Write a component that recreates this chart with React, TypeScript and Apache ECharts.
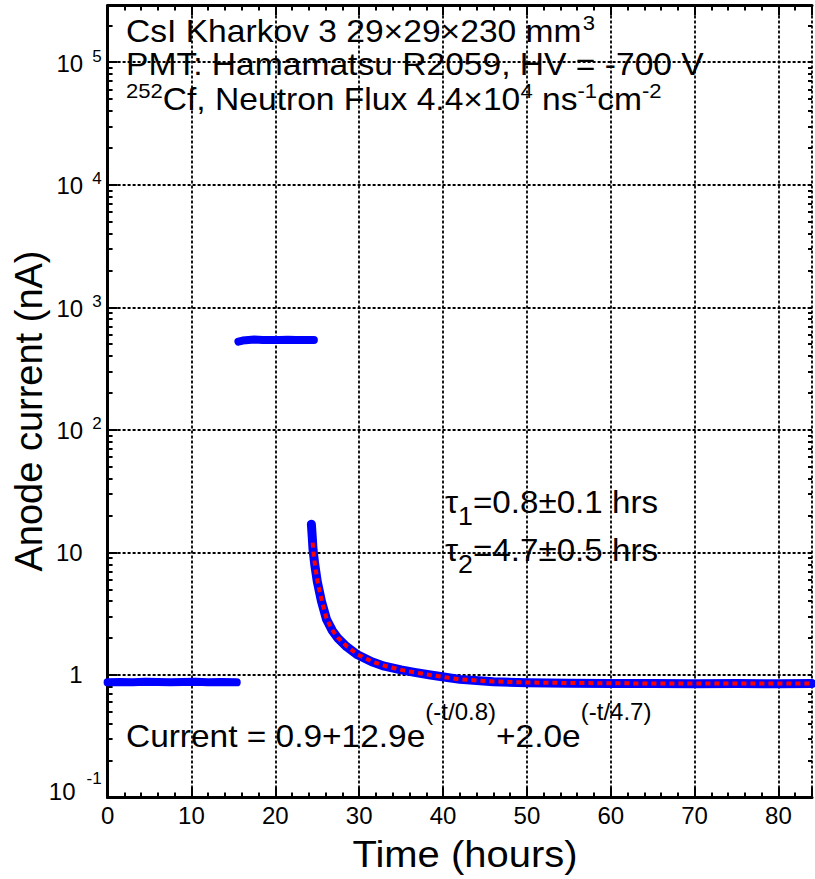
import React, { useEffect, useRef } from 'react';
import * as echarts from 'echarts';

const FONT = "'Liberation Sans', Arial, Helvetica, sans-serif";

// Axis ranges
const xRange = [0, 84];
const yRange = [0.1, 2.9e5];
const yMajorTicks = [0.1, 1, 10, 100, 1000, 10000, 100000];
const yMinorMultipliers = [2, 3, 4, 5, 6, 7, 8, 9];
const yDecades = [0.1, 1, 10, 100, 1000, 10000, 100000];

// Data: [time (hours), anode current (nA)]
const beforeIrradiation: [number, number][] = [
  [0, 0.87], [1.5, 0.875], [3, 0.87], [4.5, 0.88], [6, 0.875], [7.5, 0.87],
  [9, 0.875], [10.5, 0.88], [12, 0.87], [13.5, 0.875], [15.4, 0.87],
];

const duringIrradiation: [number, number][] = [
  [15.6, 525], [16.1, 535], [16.8, 540], [17.5, 545], [18.5, 542], [19.5, 540],
  [20.5, 541], [21.5, 543], [22.5, 540], [23.5, 541], [24.6, 540],
];

const afterIrradiation: [number, number][] = [
  [24.3, 17], [24.4, 13.5], [24.5, 10.5], [24.7, 8], [25.0, 5.8], [25.5, 4.0],
  [26.1, 2.85], [26.8, 2.3], [27.5, 1.98], [28.5, 1.7], [29.8, 1.46], [31.5, 1.28],
  [33, 1.18], [35, 1.1], [36.6, 1.05], [38.5, 1.0], [39.7, 0.97], [42, 0.92],
  [46, 0.88], [50, 0.865], [55, 0.857], [60, 0.852], [65, 0.85], [70, 0.848],
  [75, 0.85], [80, 0.848], [84, 0.85],
];

const fitCurve: [number, number][] = [
  [24.45, 12], [24.6, 9.2], [24.8, 7.3], [25.1, 5.5], [25.6, 3.9], [26.1, 2.9],
  [26.8, 2.32], [27.5, 2.0], [28.5, 1.72], [29.8, 1.47], [31.5, 1.29], [33, 1.19],
  [35, 1.1], [36.6, 1.05], [38.5, 1.0], [39.7, 0.97], [42, 0.92], [46, 0.885],
  [50, 0.868], [55, 0.86], [60, 0.855], [65, 0.852], [70, 0.85], [75, 0.85],
  [80, 0.85], [84, 0.85],
];

const titleLines = {
  crystal: 'CsI Kharkov 3 29×29×230 mm',
  pmt: 'PMT: Hamamatsu R2059, HV = -700 V',
  source: 'Cf, Neutron Flux 4.4×10',
  tau1: '=0.8±0.1 hrs',
  tau2: '=4.7±0.5 hrs',
  fitA: 'Current = 0.9+12.9e',
  fitB: '+2.0e',
};

const yMinorTicks: number[] = [];
yDecades.forEach((d) => yMinorMultipliers.forEach((m) => {
  const v = +(d * m).toPrecision(3);
  if (v < yRange[1]) yMinorTicks.push(v);
}));

export default function App() {
  const ref = useRef<HTMLDivElement>(null);
  useEffect(() => {
    if (!ref.current) return;
    const chart = echarts.init(ref.current, undefined, { renderer: 'svg' });
    const black = '#000';
    const gridLine = { show: true, lineStyle: { color: black, width: 1.8, type: [3, 2] as any } };

    const yLabelFormatter = (v: number) => {
      const e = Math.round(Math.log10(v));
      if (e === 0) return '{p|1}';
      if (e === 1) return '{p|10}';
      if (e === -1) return '{nb|10}{ns|-1}';
      return `{b|10}{s|${e}}`;
    };

    const tok = (fs: number, lh: number, va: string, pad: number[] = [0, 0, 0, 0]) => ({
      fontSize: fs, lineHeight: lh, fontFamily: FONT, fill: black, color: black,
      verticalAlign: va, padding: pad,
    });

    const textEl = (x: number, y: number, text: string, rich: any, scaleX = 1) => ({
      type: 'text', x, y, z: 50, scaleX,
      style: { text, rich, fill: black, fontFamily: FONT, fontSize: 32, align: 'left', verticalAlign: 'top' },
    });

    const option: any = {
      animation: false,
      backgroundColor: '#fff',
      grid: { left: 107.6, right: 1.4, top: 5.5, bottom: 81.5, containLabel: false },
      xAxis: [
        {
          type: 'value', position: 'bottom', min: xRange[0], max: xRange[1], interval: 10,
          axisLine: { show: true, lineStyle: { color: black, width: 3 } },
          axisTick: { show: true, inside: true, length: 10, lineStyle: { color: black, width: 2 } },
          minorTick: { show: true, splitNumber: 5, length: 5, lineStyle: { color: black, width: 2 } },
          axisLabel: {
            show: true, color: black, fontSize: 24, fontFamily: FONT, margin: 6,
            formatter: (v: number) => (v % 10 === 0 ? String(v) : ''),
          },
          splitLine: gridLine,
        },
        {
          type: 'value', position: 'top', min: xRange[0], max: xRange[1], interval: 10,
          axisLine: { show: true, lineStyle: { color: black, width: 3 } },
          axisTick: { show: true, inside: true, length: 10, lineStyle: { color: black, width: 2 } },
          minorTick: { show: true, splitNumber: 5, length: 5, lineStyle: { color: black, width: 2 } },
          axisLabel: { show: false },
          splitLine: { show: false },
        },
      ],
      yAxis: [
        {
          type: 'log', logBase: 10, position: 'left', min: yRange[0], max: yRange[1],
          axisLine: { show: true, lineStyle: { color: black, width: 3 } },
          axisTick: { show: true, inside: true, length: 10, customValues: yMajorTicks, lineStyle: { color: black, width: 2 } },
          axisLabel: {
            show: true, customValues: yMajorTicks, margin: 6, formatter: yLabelFormatter,
            color: black, fontFamily: FONT, fontSize: 24,
            rich: {
              b: tok(24, 29, 'bottom', [0, 0, 1.5, 0]),
              s: tok(17, 17, 'top', [0, 0, 0, 9]),
              p: tok(24, 24, 'middle', [0, 19, 0, 0]),
              nb: tok(24, 56, 'bottom', [0, 0, 22.5, 0]),
              ns: tok(17, 17, 'top', [0, 0, 0, 11]),
            },
          },
          splitLine: gridLine,
        },
        {
          type: 'log', logBase: 10, position: 'left', min: yRange[0], max: yRange[1],
          axisLine: { show: false },
          axisTick: { show: true, inside: true, length: 5, customValues: yMinorTicks, lineStyle: { color: black, width: 2 } },
          axisLabel: { show: false },
          splitLine: { show: false },
        },
        {
          type: 'log', logBase: 10, position: 'right', min: yRange[0], max: yRange[1],
          axisLine: { show: false },
          axisTick: { show: true, inside: true, length: 4, customValues: [...yMajorTicks, ...yMinorTicks], lineStyle: { color: black, width: 2 } },
          axisLabel: { show: false },
          splitLine: { show: false },
        },
      ],
      series: [
        {
          name: 'before', type: 'line', xAxisIndex: 0, yAxisIndex: 0, data: beforeIrradiation,
          showSymbol: false, symbol: 'none', lineStyle: { color: '#0000ff', width: 8, cap: 'round', join: 'round' }, z: 3,
        },
        {
          name: 'during', type: 'line', xAxisIndex: 0, yAxisIndex: 0, data: duringIrradiation,
          showSymbol: false, symbol: 'none', lineStyle: { color: '#0000ff', width: 8, cap: 'round', join: 'round' }, z: 3,
        },
        {
          name: 'after', type: 'line', xAxisIndex: 0, yAxisIndex: 0, data: afterIrradiation,
          showSymbol: false, symbol: 'none', lineStyle: { color: '#0000ff', width: 9, cap: 'round', join: 'round' }, z: 3,
        },
        {
          name: 'fit', type: 'line', xAxisIndex: 0, yAxisIndex: 0, data: fitCurve,
          showSymbol: false, symbol: 'none', lineStyle: { color: '#ff0000', width: 4, type: [5, 4] }, z: 4,
        },
      ],
      graphic: [
        {
          type: 'text', x: 29, y: 411, rotation: Math.PI / 2, z: 50,
          style: { text: 'Anode current (nA)', fill: black, fontFamily: FONT, fontSize: 38, align: 'center', verticalAlign: 'middle' },
        },
        {
          type: 'text', x: 465, y: 854, z: 50, scaleX: 1.08,
          style: { text: 'Time (hours)', fill: black, fontFamily: FONT, fontSize: 37, align: 'center', verticalAlign: 'middle' },
        },
        textEl(126, 12.9, `{b|${titleLines.crystal}}{s|3}`, { b: tok(32, 34, 'bottom'), s: tok(21, 21, 'top', [0, 0, 0, 1]) }, 1.05),
        textEl(126, 47.9, `{b|${titleLines.pmt}}`, { b: tok(32, 32, 'bottom') }, 1.05),
        textEl(126, 80.9, `{s|252}{b|${titleLines.source}}{s|4}{b| ns}{s|-1}{b|cm}{s|-2}`, { b: tok(32, 34, 'bottom'), s: tok(21, 21, 'top') }, 1.05),
        textEl(445, 486.8, `{b|τ}{sub|1}{b|${titleLines.tau1}}`, {
          b: tok(31, 31, 'top'), sub: tok(25, 42, 'bottom'),
        }, 1.07),
        textEl(445, 535.3, `{b|τ}{sub|2}{b|${titleLines.tau2}}`, {
          b: tok(31, 31, 'top'), sub: tok(25, 42, 'bottom'),
        }, 1.07),
        textEl(126, 700.5, `{b|${titleLines.fitA}}{s|(-t/0.8)}{b|${titleLines.fitB}}{s|(-t/4.7)}`, {
          b: tok(32, 51.4, 'bottom'), s: tok(23, 23, 'top'),
        }, 1.045),
      ],
    };
    chart.setOption(option);
    return () => chart.dispose();
  }, []);
  return <div ref={ref} style={{ position: 'fixed', left: 0, top: 0, width: 815, height: 879, background: '#fff' }} />;
}
